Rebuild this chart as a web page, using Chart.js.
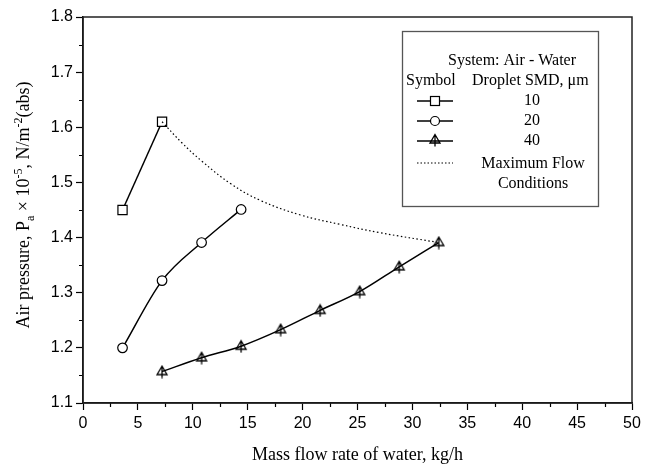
<!DOCTYPE html>
<html>
<head>
<meta charset="utf-8">
<script src="https://cdn.jsdelivr.net/npm/chart.js@4.4.1/dist/chart.umd.min.js"></script>
<style>
  body { margin: 0; background: #fff; }
  canvas { display: block; }
</style>
</head>
<body>
<canvas id="chart" width="655" height="466"></canvas>
<script>
// values
const smd10 = [[3.6, 1.45], [7.2, 1.61]];
const smd20 = [[3.6, 1.2], [7.2, 1.322], [10.8, 1.391], [14.4, 1.451]];
const smd40 = [[7.2, 1.157], [10.8, 1.182], [14.4, 1.203], [18.0, 1.233],
  [21.6, 1.268], [25.2, 1.302], [28.8, 1.347], [32.4, 1.391]];
const maxFlow = [[7.2, 1.61], [9.0, 1.572], [10.8, 1.539], [13.5, 1.497],
  [16.2, 1.467], [19.8, 1.441], [23.4, 1.424], [27.0, 1.409], [32.4, 1.391]];
const legendRows = ["10", "20", "40"];

const serif = '"Liberation Serif", "Times New Roman", serif';
const sans = '"Liberation Sans", Arial, sans-serif';

const pts = (arr) => arr.map(([x, y]) => ({ x, y }));

// triangle with a vertical bar, like the reference symbol
function triMarker() {
  const c = document.createElement("canvas");
  c.width = 14; c.height = 14;
  const g = c.getContext("2d");
  g.strokeStyle = "#000";
  g.lineWidth = 1.3;
  g.beginPath();
  g.moveTo(7, 1.5); g.lineTo(12, 10); g.lineTo(2, 10); g.closePath();
  g.moveTo(7, 1.5); g.lineTo(7, 13.5);
  g.stroke();
  return c;
}
const tri = triMarker();

// minor ticks, frame, y title and the boxed legend
const extras = {
  id: "extras",
  afterDraw(chart) {
    const { ctx, chartArea: a, scales } = chart;
    const xs = scales.x, ys = scales.y;
    ctx.save();
    ctx.strokeStyle = "#000";
    ctx.lineWidth = 1.2;
    ctx.beginPath();
    for (let v = 2.5; v < 50; v += 5) {
      const px = Math.round(xs.getPixelForValue(v)) + 0.5;
      ctx.moveTo(px, a.bottom); ctx.lineTo(px, a.bottom + 4);
    }
    for (let v = 1.15; v < 1.8; v += 0.1) {
      const py = Math.round(ys.getPixelForValue(v)) + 0.5;
      ctx.moveTo(a.left, py); ctx.lineTo(a.left - 4, py);
    }
    ctx.stroke();

    ctx.lineWidth = 1.5;
    ctx.strokeStyle = "#222";
    ctx.strokeRect(a.left, a.top, a.right - a.left, a.bottom - a.top);

    // y axis title with sub/superscripts
    const parts = [
      ["Air pressure, P", 0, 18],
      ["a", 5, 12],
      [" \u00d7 10", 0, 18],
      ["-5", -7, 12],
      [", N/m", 0, 18],
      ["-2", -7, 12],
      ["(abs)", 0, 18],
    ];
    ctx.fillStyle = "#000";
    ctx.textBaseline = "alphabetic";
    let total = 0;
    parts.forEach(([t, , s]) => { ctx.font = s + "px " + serif; total += ctx.measureText(t).width; });
    ctx.translate(29, (a.top + a.bottom) / 2 - 5);
    ctx.rotate(-Math.PI / 2);
    let cx = -total / 2;
    parts.forEach(([t, dy, s]) => {
      ctx.font = s + "px " + serif;
      ctx.fillText(t, cx, dy);
      cx += ctx.measureText(t).width;
    });
    ctx.setTransform(1, 0, 0, 1, 0, 0);

    // legend box
    const bx = 402, by = 31, bw = 196, bh = 175;
    ctx.fillStyle = "#fff";
    ctx.fillRect(bx, by, bw, bh);
    ctx.strokeStyle = "#555";
    ctx.lineWidth = 1.3;
    ctx.strokeRect(bx + 0.5, by + 0.5, bw, bh);
    ctx.fillStyle = "#000";
    ctx.font = "16px " + serif;
    ctx.textBaseline = "middle";
    ctx.textAlign = "left";
    ctx.fillText("System: Air - Water", 448, 61);
    ctx.fillText("Symbol", 406, 81);
    ctx.fillText("Droplet SMD, \u03bcm", 472, 81);
    ctx.textAlign = "center";
    legendRows.forEach((t, i) => ctx.fillText(t, 532, 101 + i * 20));
    ctx.fillText("Maximum Flow", 533, 164);
    ctx.fillText("Conditions", 533, 184);

    const sx = 435;
    ctx.strokeStyle = "#000";
    ctx.lineWidth = 1.5;
    [101, 121, 141].forEach((y) => {
      ctx.beginPath(); ctx.moveTo(417, y); ctx.lineTo(453, y); ctx.stroke();
    });
    ctx.lineWidth = 1.2;
    ctx.fillStyle = "#fff";
    ctx.fillRect(sx - 4.5, 96.5, 9, 9);
    ctx.strokeRect(sx - 4.5, 96.5, 9, 9);
    ctx.beginPath(); ctx.arc(sx, 121, 4.5, 0, Math.PI * 2); ctx.fill(); ctx.stroke();
    ctx.drawImage(tri, sx - 7, 141 - 8);
    ctx.setLineDash([1.5, 2]);
    ctx.beginPath(); ctx.moveTo(417, 163); ctx.lineTo(453, 163); ctx.stroke();
    ctx.restore();
  },
};

new Chart(document.getElementById("chart"), {
  type: "scatter",
  data: {
    datasets: [
      {
        data: pts(maxFlow), showLine: true, pointRadius: 0,
        borderColor: "#000", borderWidth: 1.2, borderDash: [1.5, 2.5],
        tension: 0.4,
      },
      {
        data: pts(smd10), showLine: true, borderColor: "#000", borderWidth: 1.5,
        pointStyle: "rect", pointRadius: 6.5, pointBorderWidth: 1.2,
        pointBackgroundColor: "#fff", pointBorderColor: "#000",
      },
      {
        data: pts(smd20), showLine: true, borderColor: "#000", borderWidth: 1.5,
        cubicInterpolationMode: "monotone",
        pointStyle: "circle", pointRadius: 4.8, pointBorderWidth: 1.2,
        pointBackgroundColor: "#fff", pointBorderColor: "#000",
      },
      {
        data: pts(smd40), showLine: true, borderColor: "#000", borderWidth: 1.5,
        cubicInterpolationMode: "monotone",
        pointStyle: tri, pointRadius: 6,
      },
    ],
  },
  options: {
    responsive: false,
    animation: false,
    layout: { padding: { top: 17, right: 23, left: 0, bottom: 0 } },
    plugins: { legend: { display: false }, tooltip: { enabled: false } },
    scales: {
      x: {
        type: "linear", min: 0, max: 50,
        afterFit: (s) => { s.height = 63; },
        ticks: { stepSize: 5, color: "#000", font: { family: sans, size: 16 }, padding: 4, maxRotation: 0 },
        grid: { drawOnChartArea: false, tickLength: 7, tickColor: "#000", tickWidth: 1.2 },
        border: { color: "#000", width: 1.5 },
        title: {
          display: true, text: "Mass flow rate of water, kg/h",
          color: "#000", font: { family: serif, size: 18 }, padding: { top: 4, bottom: 0 },
        },
      },
      y: {
        type: "linear", min: 1.1, max: 1.8,
        afterFit: (s) => { s.width = 83; },
        ticks: {
          stepSize: 0.1, color: "#000", font: { family: sans, size: 16 }, padding: 3,
          callback: (v) => v.toFixed(1),
        },
        grid: { drawOnChartArea: false, tickLength: 7, tickColor: "#000", tickWidth: 1.2 },
        border: { color: "#000", width: 1.5 },
      },
    },
  },
  plugins: [extras],
});
</script>
</body>
</html>
